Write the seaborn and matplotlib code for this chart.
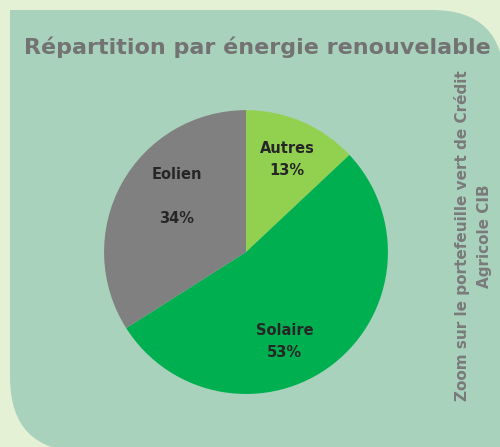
import matplotlib
matplotlib.use("Agg")
import matplotlib.pyplot as plt
from matplotlib.path import Path
from matplotlib.patches import PathPatch
import seaborn as sns

# data
labels = ["Autres", "Solaire", "Eolien"]
shares = [13, 53, 34]
colors = ["#92D050", "#00B050", "#808080"]
# label text offsets in the pie (x, y, radius units)
label_xy = [(0.29, 0.65), (0.27, -0.63), (-0.49, 0.39)]
label_fmt = ["{}\n{}%", "{}\n{}%", "{}\n\n{}%"]

sns.set_theme(style="white")
plt.rcParams["font.family"] = ["DejaVu Sans"]

fig = plt.figure(figsize=(5.0, 4.47), dpi=100, facecolor="#E4F1D5")

# background panel with two rounded corners (pixel coords)
bg = fig.add_axes([0, 0, 1, 1])
bg.set_xlim(0, 500)
bg.set_ylim(447, 0)
bg.axis("off")
r1, r2 = 72, 75
L, T, R, B = 10, 10, 504, 452
verts = [(L, T), (R - r1, T), (R, T), (R, T + r1), (R, B), (L + r2, B),
         (L, B), (L, B - r2), (L, T)]
codes = [Path.MOVETO, Path.LINETO, Path.CURVE3, Path.CURVE3, Path.LINETO,
         Path.LINETO, Path.CURVE3, Path.CURVE3, Path.CLOSEPOLY]
bg.add_patch(PathPatch(Path(verts, codes), facecolor="#A8D2BB", edgecolor="none"))

bg.text(257, 47, "Répartition par énergie renouvelable", ha="center", va="center",
        fontsize=16, fontweight="bold", color="#737373")
bg.text(473, 236, "Zoom sur le portefeuille vert de Crédit\nAgricole CIB",
        rotation=90, ha="center", va="center", fontsize=11, fontweight="bold",
        color="#7A7A7A", linespacing=1.6)

ax = fig.add_axes([0.208, 0.1186, 0.568, 0.635])
ax.pie(shares, colors=colors, startangle=90, counterclock=False,
       wedgeprops=dict(linewidth=0))
for lab, val, (x, y), fmt in zip(labels, shares, label_xy, label_fmt):
    ax.text(x, y, fmt.format(lab, val), ha="center", va="center",
            fontsize=10.5, fontweight="bold", color="#262626", linespacing=1.6)
ax.set_xlim(-1, 1)
ax.set_ylim(-1, 1)
ax.set_aspect("equal")

fig.savefig("out.png", dpi=100, facecolor=fig.get_facecolor())
